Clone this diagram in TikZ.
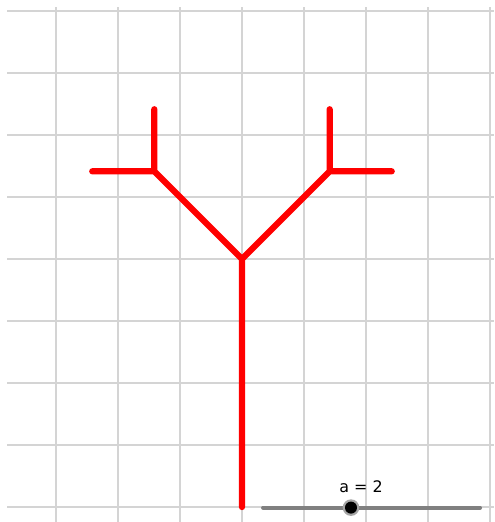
\documentclass[tikz,border=0pt]{standalone}
\usepackage{fontspec}
\setsansfont{DejaVu Sans}
\usetikzlibrary{calc}
\definecolor{gridGray}{RGB}{212,212,212}
\definecolor{treeRed}{RGB}{255,0,0}
\definecolor{sliderGray}{RGB}{128,128,128}

\begin{document}
\begin{tikzpicture}[x=1cm, y=1cm]
    \useasboundingbox (-3.903,-0.242) rectangle (4.065,8.177);
    % Grid
    \foreach \x in {-3,...,4} {
      \draw[gridGray, line width=0.7pt] (\x, -0.242) -- (\x, 8.065);
    }
    \foreach \y in {0,...,8} {
      \draw[gridGray, line width=0.7pt] (-3.79, \y) -- (4.065, \y);
    }
    % tree joints: trunk of 4, branches of 2 at 45 degrees, twigs of 1
    \coordinate (root) at (0, 0);
    \coordinate (fork) at (0, 4);
    \coordinate (lfork) at ($(fork)+(135:2)$);
    \coordinate (rfork) at ($(fork)+(45:2)$);
    \coordinate (lltip) at ($(lfork)+(180:1)$);
    \coordinate (lrtip) at ($(lfork)+(90:1)$);
    \coordinate (rltip) at ($(rfork)+(90:1)$);
    \coordinate (rrtip) at ($(rfork)+(0:1)$);
    \draw[treeRed, line width=2.9pt, line cap=round, line join=round]
      (root) -- (fork)
      (lltip) -- (lfork) -- (lrtip)
      (lfork) -- (fork) -- (rfork)
      (rltip) -- (rfork) -- (rrtip);
    % slider for a
    \coordinate (sstart) at (0.339, -0.01);
    \coordinate (send) at (3.84, -0.01);
    \coordinate (knob) at (1.758, -0.01);
    \draw[sliderGray, line width=1.8pt, line cap=round] (sstart) -- (send);
    \fill[sliderGray!70] (knob) circle (0.134);
    \fill[black] (knob) circle (0.097);
    \node[anchor=base, inner sep=0pt, font=\sffamily\fontsize{7.3}{8}\selectfont]
      (alabel) at (1.92, 0.237) {a = 2};
\end{tikzpicture}
\end{document}
